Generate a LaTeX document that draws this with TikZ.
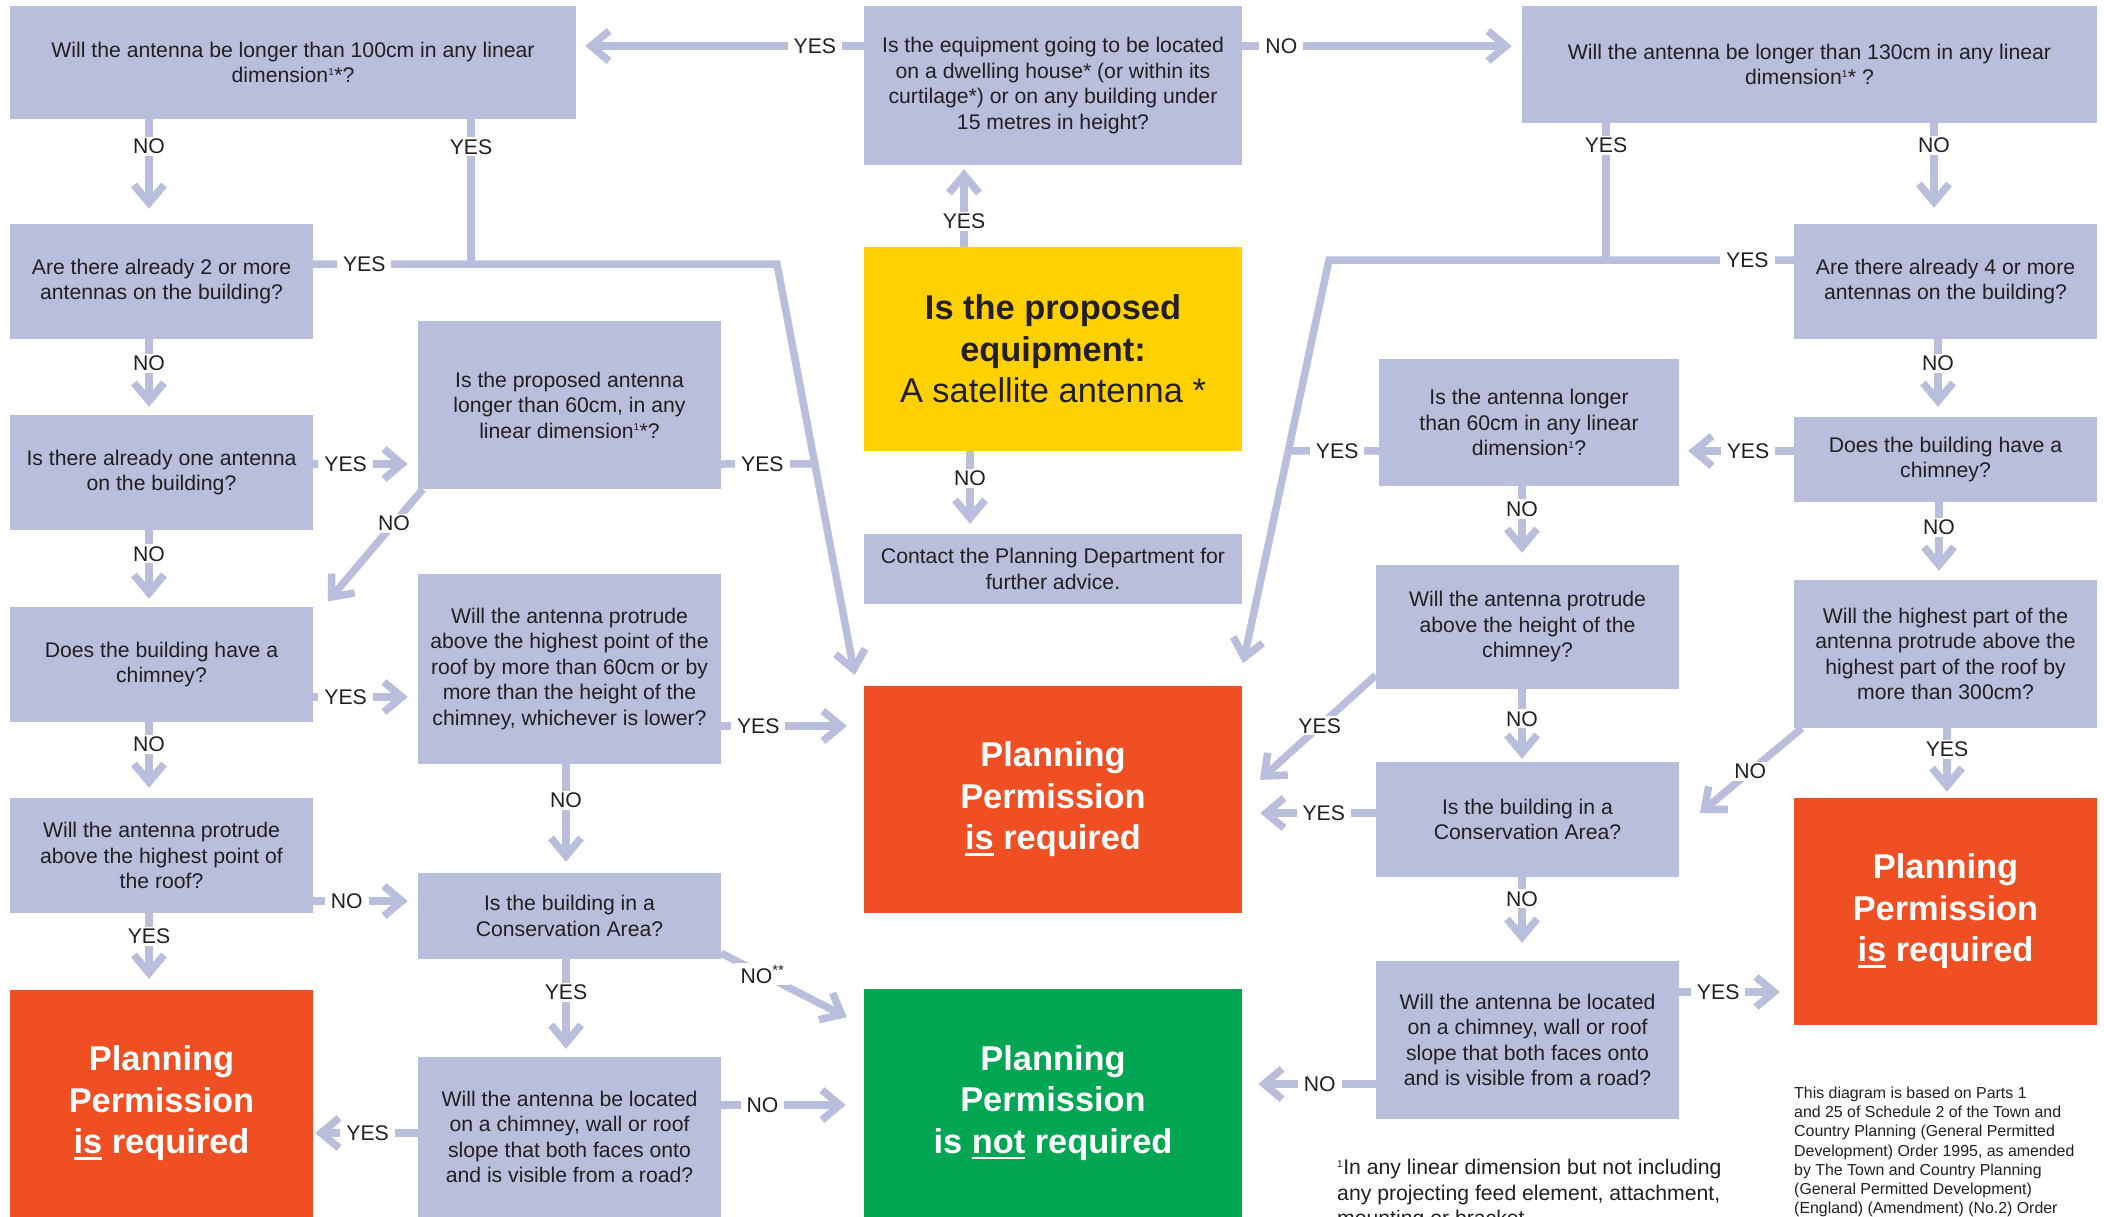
\documentclass[tikz,border=0pt]{standalone}
\usepackage{fontspec}
\setmainfont{Liberation Sans}
\usetikzlibrary{arrows.meta,calc}

\definecolor{cLav}{HTML}{B8BEDB}
\definecolor{cRed}{HTML}{F04E23}
\definecolor{cGreen}{HTML}{00A651}
\definecolor{cYellow}{HTML}{FFD100}
\definecolor{cInk}{HTML}{231F20}

\newcommand{\boxfont}{\fontsize{21.2}{25.5}\selectfont}
\newcommand{\bigfont}{\fontsize{34.4}{41.5}\selectfont\bfseries}
\newcommand{\notefont}{\fontsize{15.9}{19.1}\selectfont}
\newcommand{\undl}[1]{\setbox0=\hbox{#1}\rlap{\rule[-6pt]{\wd0}{2.8pt}}\box0\relax}
\newcommand{\supone}{\textsuperscript{\fontsize{10}{10}\selectfont 1}}

\tikzset{
  qbox/.style={fill=cLav, text=cInk, align=center, inner sep=0pt, font=\boxfont},
  endbox/.style={text=white, align=center, inner sep=0pt, font=\bigfont},
  note/.style={text=cInk, align=left, inner sep=0pt, font=\boxfont},
  lbl/.style={fill=white, text=cInk, inner xsep=6pt, inner ysep=2pt, font=\boxfont},
  conn/.style={draw=cLav, line width=7.5pt},
  arr/.style={conn, -{Straight Barb[length=18pt,width=30pt]}, shorten >=9pt}
}

\begin{document}
\begin{tikzpicture}[x=1pt,y=-1pt]
        \useasboundingbox (0,0) rectangle (2104,1217);
        \clip (0,0) rectangle (2104,1217);
        \fill[white] (0,0) rectangle (2104,1217);

        % centre column
        \node[qbox, minimum width=378pt, minimum height=159pt] (dwelling) at (1053,85.5) {Is the equipment going to be located\\on a dwelling house* (or within its\\curtilage*) or on any building under\\15 metres in height?};
        \node[fill=cYellow, text=cInk, align=center, inner sep=0pt, font=\fontsize{34.4}{41.5}\selectfont, minimum width=378pt, minimum height=204pt] (satellite) at (1053,349) {\textbf{Is the proposed}\\\textbf{equipment:}\\A satellite antenna *};
        \node[qbox, minimum width=378pt, minimum height=70pt] (contact) at (1053,569) {Contact the Planning Department for\\further advice.};
        \node[endbox, fill=cRed, minimum width=378pt, minimum height=227pt] (permC) at (1053,799.5) {Planning\\Permission\\\undl{is} required};
        \node[endbox, fill=cGreen, minimum width=378pt, minimum height=228pt] (notreq) at (1053,1103) {Planning\\Permission\\is \undl{not} required};

        % left side
        \node[qbox, minimum width=566pt, minimum height=113pt] (over100) at (293,62.5) {Will the antenna be longer  than 100cm in any linear\\dimension\supone*?};
        \node[qbox, minimum width=303pt, minimum height=115pt] (twoplus) at (161.5,281.5) {Are there already 2 or more\\antennas on the building?};
        \node[qbox, minimum width=303pt, minimum height=115pt] (oneant) at (161.5,472.5) {Is there already one antenna\\on the building?};
        \node[qbox, minimum width=303pt, minimum height=115pt] (chim1) at (161.5,664.5) {Does the building have a\\chimney?};
        \node[qbox, minimum width=303pt, minimum height=115pt] (roofpt) at (161.5,855.5) {Will the antenna protrude\\above the highest point of\\the roof?};
        \node[endbox, fill=cRed, minimum width=303pt, minimum height=227pt] (perm1) at (161.5,1103.5) {Planning\\Permission\\\undl{is} required};
        \node[qbox, minimum width=303pt, minimum height=168pt] (over60) at (569.5,405) {Is the proposed antenna\\longer than 60cm, in any\\linear dimension\supone*?};
        \node[qbox, minimum width=303pt, minimum height=190pt] (protrude) at (569.5,669) {Will the antenna protrude\\above the highest point of the\\roof by more than 60cm or by\\more than the height of the\\chimney, whichever is lower?};
        \node[qbox, minimum width=303pt, minimum height=86pt] (consA) at (569.5,916) {Is the building in a\\Conservation Area?};
        \node[qbox, minimum width=303pt, minimum height=160pt] (roadA) at (569.5,1137) {Will the antenna be located\\on a chimney, wall or roof\\slope that both faces onto\\and is visible from a road?};

        % right side
        \node[qbox, minimum width=575pt, minimum height=117pt] (over130) at (1809.5,64.5) {Will the antenna be longer than 130cm in any linear\\dimension\supone* ?};
        \node[qbox, minimum width=303pt, minimum height=115pt] (fourplus) at (1945.5,281.5) {Are there already 4 or more\\antennas on the building?};
        \node[qbox, minimum width=300pt, minimum height=127pt] (over60b) at (1529,422.5) {Is the antenna longer\\than 60cm in any linear\\dimension\supone?};
        \node[qbox, minimum width=303pt, minimum height=85pt] (chim2) at (1945.5,459.5) {Does the building  have a\\chimney?};
        \node[qbox, minimum width=303pt, minimum height=124pt] (abovechim) at (1527.5,627) {Will the antenna protrude\\above the height of the\\chimney?};
        \node[qbox, minimum width=303pt, minimum height=148pt] (over300) at (1945.5,654) {Will the highest part of the\\antenna protrude above the\\highest part of the roof by\\more than 300cm?};
        \node[qbox, minimum width=303pt, minimum height=115pt] (consB) at (1527.5,819.5) {Is the building in a\\Conservation Area?};
        \node[qbox, minimum width=303pt, minimum height=158pt] (roadB) at (1527.5,1040) {Will the antenna be located\\on a chimney, wall or roof\\slope that both faces onto\\and is visible from a road?};
        \node[endbox, fill=cRed, minimum width=303pt, minimum height=227pt] (permR) at (1945.5,911.5) {Planning\\Permission\\\undl{is} required};

        % notes
        \node[note, anchor=north west] (fnote) at (1337,1159) {\supone In any linear dimension but not including\\any projecting feed element, attachment,\\mounting or bracket};
        \node[note, anchor=north west, font=\notefont] (basis) at (1794,1087) {This diagram is based on  Parts 1\\and 25 of Schedule 2 of the Town and\\Country Planning (General Permitted\\Development) Order 1995, as amended\\by The Town and  Country Planning\\(General  Permitted Development)\\(England) (Amendment) (No.2)  Order};

        % top row
        \coordinate (k1) at ([yshift=39.5pt]dwelling.west);
        \draw[arr] (k1) -- node[lbl,pos=.17]{YES} (k1 -| over100.east);
        \coordinate (k2) at ([yshift=39.5pt]dwelling.east);
        \draw[arr, shorten >=10pt] (k2) -- node[lbl,pos=.14]{NO} (k2 -| over130.west);
        \coordinate (s1) at ([xshift=-89pt]satellite.north);
        \draw[arr, shorten >=4pt] (s1) -- node[lbl,pos=.31]{YES} (s1 |- dwelling.south);
        \coordinate (s2) at ([xshift=-83pt]satellite.south);
        \draw[arr, shorten >=10pt] (s2) -- node[lbl,pos=.33]{NO} (s2 |- contact.north);

        % left branch
        \coordinate (a1) at ([xshift=-144pt]over100.south);
        \draw[arr, shorten >=15pt] (a1) -- node[lbl,pos=.26]{NO} (a1 |- twoplus.north);
        \coordinate (b1) at ([yshift=17.5pt]twoplus.east);
        \coordinate (bendL) at (777,264);
        \coordinate (endL) at ([xshift=-7pt]permC.north west);
        \coordinate (a2) at ([xshift=178pt]over100.south);
        \draw[conn] (a2) -- node[lbl,pos=.19]{YES} (a2 |- b1);
        \draw[arr, shorten >=11pt] (b1) -- node[lbl,pos=.11]{YES} (bendL) -- (endL);
        \coordinate (g1) at ([yshift=-59pt]over60.east);
        \draw[conn] (g1) -- node[lbl,pos=.44]{YES} ($(bendL)!.474!(endL)$);
        \coordinate (b2) at ([xshift=-12.5pt]twoplus.south);
        \draw[arr, shorten >=8pt] (b2) -- node[lbl,pos=.32]{NO} (b2 |- oneant.north);
        \coordinate (c1) at ([yshift=8.5pt]oneant.east);
        \draw[arr, shorten >=10pt] (c1) -- node[lbl,pos=.31]{YES} (c1 -| over60.west);
        \draw[arr, shorten >=7pt] ([xshift=5pt]over60.south west) -- node[lbl,pos=.29]{NO} ([xshift=10pt]chim1.north east);
        \coordinate (c2) at ([xshift=-12.5pt]oneant.south);
        \draw[arr, shorten >=8pt] (c2) -- node[lbl,pos=.31]{NO} (c2 |- chim1.north);
        \coordinate (d1) at ([yshift=-32.5pt]chim1.east);
        \draw[arr, shorten >=10pt] (d1) -- node[lbl,pos=.31]{YES} (d1 -| protrude.west);
        \coordinate (h1) at ([yshift=-57pt]protrude.east);
        \draw[arr, shorten >=17pt] (h1) -- node[lbl,pos=.26]{YES} (h1 -| permC.west);
        \coordinate (d2) at ([xshift=-12.5pt]chim1.south);
        \draw[arr, shorten >=10pt] (d2) -- node[lbl,pos=.29]{NO} (d2 |- roofpt.north);
        \coordinate (h2) at ([xshift=-3.5pt]protrude.south);
        \draw[arr, shorten >=11pt] (h2) -- node[lbl,pos=.33]{NO} (h2 |- consA.north);
        \coordinate (e1) at ([yshift=-45.5pt]roofpt.east);
        \draw[arr, shorten >=10pt] (e1) -- node[lbl,pos=.32]{NO} (e1 -| consA.west);
        \coordinate (e2) at ([xshift=-12.5pt]roofpt.south);
        \draw[arr, shorten >=11pt] (e2) -- node[lbl,pos=.30]{YES} (e2 |- perm1.north);
        \coordinate (i1) at ([xshift=-3.5pt]consA.south);
        \draw[arr, shorten >=8pt] (i1) -- node[lbl,pos=.34]{YES} (i1 |- roadA.north);
        \draw[arr, shorten >=19pt] ([yshift=6pt]consA.south east) -- node[lbl,pos=.29]{NO\textsuperscript{**}} ([yshift=-37pt]notreq.north west);
        \coordinate (j1) at ([yshift=4pt]roadA.west);
        \draw[arr, shorten >=2pt] (j1) -- node[lbl,pos=.48]{YES} (j1 -| perm1.east);
        \coordinate (j2) at ([yshift=32pt]roadA.east);
        \draw[arr, shorten >=18pt] (j2) -- node[lbl,pos=.29]{NO} (j2 -| notreq.west);

        % right branch
        \coordinate (p1) at ([xshift=-203.5pt]over130.south);
        \coordinate (q1) at ([yshift=21.5pt]fourplus.west);
        \coordinate (bendR) at (1329,260);
        \coordinate (endR) at ([xshift=-4pt]permC.north east);
        \draw[conn] (p1) -- node[lbl,pos=.16]{YES} (p1 |- q1);
        \draw[arr, shorten >=23pt] (q1) -- node[lbl,pos=.10]{YES} (bendR) -- (endR);
        \coordinate (p2) at ([xshift=124.5pt]over130.south);
        \draw[arr, shorten >=16pt] (p2) -- node[lbl,pos=.22]{NO} (p2 |- fourplus.north);
        \coordinate (r1) at ([yshift=-28.5pt]over60b.west);
        \draw[conn] (r1) -- node[lbl,pos=.46]{YES} ($(bendR)!.448!(endR)$);
        \coordinate (q2) at ([xshift=-7.5pt]fourplus.south);
        \draw[arr, shorten >=10pt] (q2) -- node[lbl,pos=.31]{NO} (q2 |- chim2.north);
        \coordinate (s3) at ([yshift=8.5pt]chim2.west);
        \draw[arr] (s3) -- node[lbl,pos=.40]{YES} (s3 -| over60b.east);
        \coordinate (r2) at ([xshift=-7pt]over60b.south);
        \draw[arr, shorten >=12pt] (r2) -- node[lbl,pos=.29]{NO} (r2 |- abovechim.north);
        \coordinate (s4) at ([xshift=-6.5pt]chim2.south);
        \draw[arr] (s4) -- node[lbl,pos=.32]{NO} (s4 |- over300.north);
        \draw[arr, shorten >=24pt] ([yshift=14pt]abovechim.south west) -- node[lbl,pos=.42]{YES} ([yshift=3.5pt]permC.east);
        \coordinate (t1) at ([xshift=-5.5pt]abovechim.south);
        \draw[arr, shorten >=3pt] (t1) -- node[lbl,pos=.41]{NO} (t1 |- consB.north);
        \coordinate (v1) at ([yshift=6.5pt]consB.west);
        \draw[arr, shorten >=18pt] (v1) -- node[lbl,pos=.39]{YES} (v1 -| permC.east);
        \draw[arr, shorten >=27pt] ([xshift=8pt]over300.south west) -- node[lbl,pos=.42]{NO} ([yshift=-11pt]consB.east);
        \coordinate (u1) at ([xshift=1.5pt]over300.south);
        \draw[arr, shorten >=6pt] (u1) -- node[lbl,pos=.30]{YES} (u1 |- permR.north);
        \coordinate (v2) at ([xshift=-5.5pt]consB.south);
        \draw[arr, shorten >=18pt] (v2) -- node[lbl,pos=.26]{NO} (v2 |- roadB.north);
        \coordinate (w1) at ([yshift=48pt]roadB.east);
        \draw[arr, shorten >=14pt] (w1) -- node[lbl,pos=.34]{YES} (w1 -| permR.west);
        \coordinate (w2) at ([yshift=-44pt]roadB.west);
        \draw[arr, shorten >=16pt] (w2) -- node[lbl,pos=.42]{NO} (w2 -| notreq.east);
    \end{tikzpicture}
\end{document}
